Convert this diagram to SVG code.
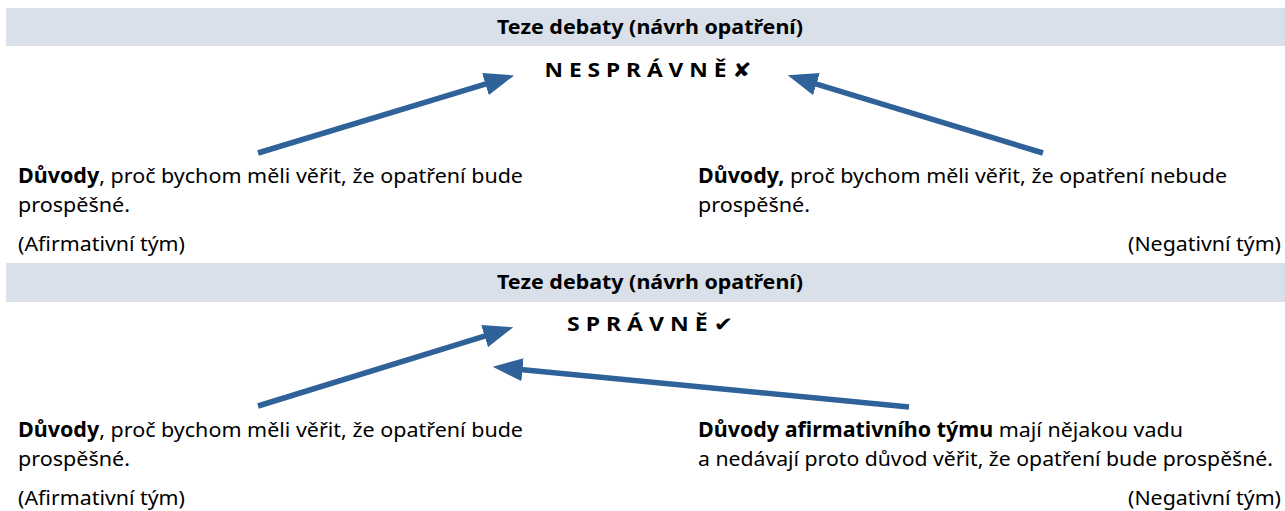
<svg xmlns="http://www.w3.org/2000/svg" width="1285" height="511" viewBox="0 0 1285 511">
<style>
.band{fill:#d9e0ea}
.title{font-family:"Noto Sans","Liberation Sans",sans-serif;font-weight:bold;font-size:19.5px;fill:#000}
.big{font-family:"Noto Sans","DejaVu Sans",sans-serif;font-weight:bold;font-size:20px;fill:#000}
.t{font-family:"Noto Sans","Liberation Sans",sans-serif;font-size:20.5px;fill:#000}
.b{font-weight:bold}
.arrow{stroke:#30629a;stroke-width:5.5;fill:none;marker-end:url(#ah)}
</style>
<defs>
<marker id="ah" markerUnits="userSpaceOnUse" markerWidth="30" markerHeight="24" refX="11" refY="10" orient="auto" viewBox="0 0 26 20">
<path d="M0,0 L26,10 L0,20 z" fill="#30629a"/>
</marker>
</defs>
<rect width="1285" height="511" fill="#fff"/>
<g id="thesis1">
<rect class="band" x="6" y="8" width="1279" height="38"/>
<text class="title" x="650" y="34" text-anchor="middle" textLength="306" lengthAdjust="spacingAndGlyphs">Teze debaty (návrh opatření)</text>
<text class="big" x="648" y="77" text-anchor="middle" textLength="207" lengthAdjust="spacingAndGlyphs">N E S P R Á V N Ě ✘</text>
</g>
<g id="aff1">
<text class="t" x="18" y="183" textLength="505" lengthAdjust="spacingAndGlyphs"><tspan class="b">Důvody</tspan>, proč bychom měli věřit, že opatření bude</text>
<text class="t" x="18" y="212" textLength="112" lengthAdjust="spacingAndGlyphs">prospěšné.</text>
<text class="t" x="18" y="251" textLength="167" lengthAdjust="spacingAndGlyphs">(Afirmativní tým)</text>
</g>
<g id="neg1">
<text class="t" x="698" y="183" textLength="529" lengthAdjust="spacingAndGlyphs"><tspan class="b">Důvody,</tspan> proč bychom měli věřit, že opatření nebude</text>
<text class="t" x="698" y="212" textLength="112" lengthAdjust="spacingAndGlyphs">prospěšné.</text>
<text class="t" x="1281" y="251" text-anchor="end" textLength="153" lengthAdjust="spacingAndGlyphs">(Negativní tým)</text>
</g>
<g id="thesis2">
<rect class="band" x="6" y="263" width="1279" height="39"/>
<text class="title" x="650" y="289" text-anchor="middle" textLength="306" lengthAdjust="spacingAndGlyphs">Teze debaty (návrh opatření)</text>
<text class="big" x="650" y="331" text-anchor="middle" textLength="166" lengthAdjust="spacingAndGlyphs">S P R Á V N Ě ✔</text>
</g>
<g id="aff2">
<text class="t" x="18" y="437" textLength="505" lengthAdjust="spacingAndGlyphs"><tspan class="b">Důvody</tspan>, proč bychom měli věřit, že opatření bude</text>
<text class="t" x="18" y="466" textLength="112" lengthAdjust="spacingAndGlyphs">prospěšné.</text>
<text class="t" x="18" y="505" textLength="167" lengthAdjust="spacingAndGlyphs">(Afirmativní tým)</text>
</g>
<g id="neg2">
<text class="t" x="698" y="437" textLength="485" lengthAdjust="spacingAndGlyphs"><tspan class="b">Důvody afirmativního týmu</tspan> mají nějakou vadu</text>
<text class="t" x="698" y="466" textLength="575" lengthAdjust="spacingAndGlyphs">a nedávají proto důvod věřit, že opatření bude prospěšné.</text>
<text class="t" x="1281" y="505" text-anchor="end" textLength="153" lengthAdjust="spacingAndGlyphs">(Negativní tým)</text>
</g>
<g id="connectors">
<line class="arrow" x1="258" y1="153" x2="497.6" y2="80.4"/>
<line class="arrow" x1="1043" y1="153" x2="804.3" y2="80.4"/>
<line class="arrow" x1="258" y1="406" x2="496.7" y2="332.4"/>
<line class="arrow" x1="909" y1="407" x2="509.9" y2="368.4"/>
</g>
</svg>
